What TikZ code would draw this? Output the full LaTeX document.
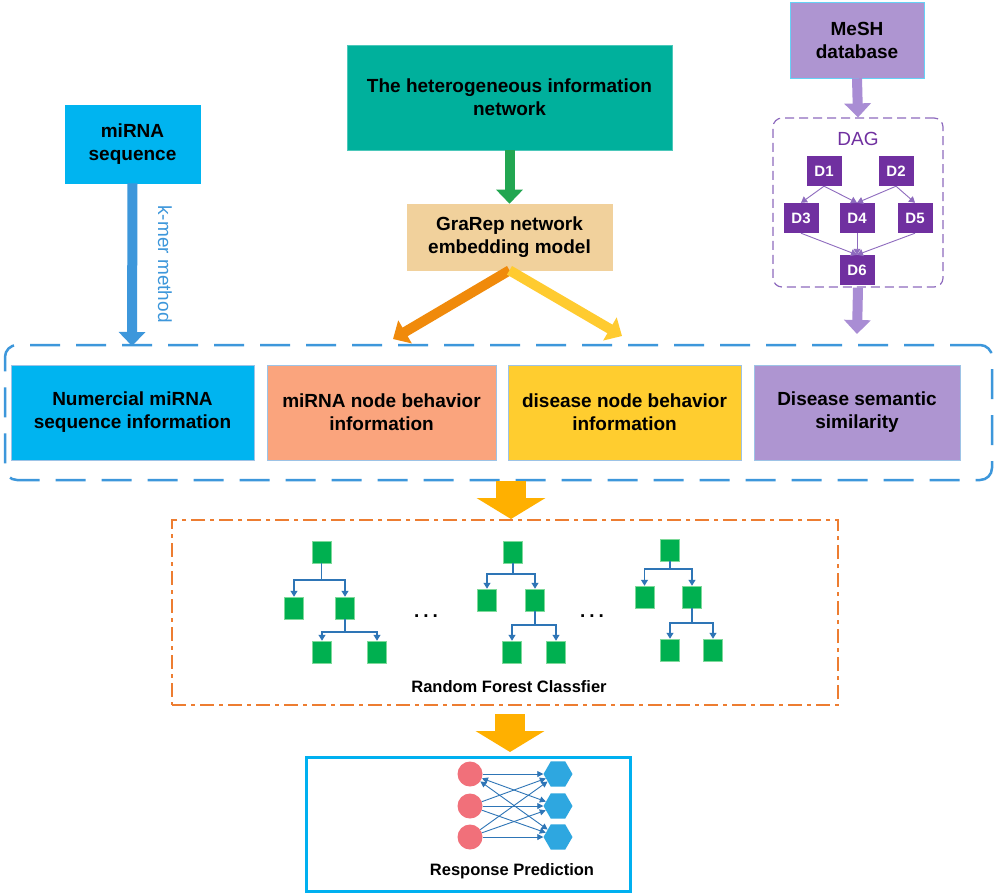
\documentclass[tikz,border=0pt]{standalone}
\usepackage{fontspec}
\setmainfont{Liberation Sans}
\usetikzlibrary{arrows.meta,shapes.geometric}
\definecolor{cSeq}{HTML}{00B4F0}
\definecolor{cTeal}{HTML}{00B09C}
\definecolor{cWheat}{HTML}{F1D19C}
\definecolor{cSalmon}{HTML}{FAA47D}
\definecolor{cYel}{HTML}{FFCD2F}
\definecolor{cLav}{HTML}{AE95D1}
\definecolor{cDag}{HTML}{7030A0}
\definecolor{cDagLine}{HTML}{8E6BBE}
\definecolor{cBlueA}{HTML}{3D97DB}
\definecolor{cGreenA}{HTML}{22A651}
\definecolor{cOrangeA}{HTML}{F08A0B}
\definecolor{cYellowA}{HTML}{FFCB30}
\definecolor{cPurpA}{HTML}{A98DD4}
\definecolor{cBig}{HTML}{FFB000}
\definecolor{cForest}{HTML}{ED7D31}
\definecolor{cLeaf}{HTML}{00B050}
\definecolor{cLeafB}{HTML}{7ED99A}
\definecolor{cTree}{HTML}{2E75B6}
\definecolor{cRed}{HTML}{F1707A}
\definecolor{cHex}{HTML}{2EA7E0}
\definecolor{cResp}{HTML}{00B0F0}
\definecolor{cEdge}{HTML}{9DC3E6}
\tikzset{
  box/.style={inner sep=0pt, align=center, draw=cEdge, line width=0.6pt,
    font=\bfseries\fontsize{19}{23}\selectfont},
  dnode/.style={inner sep=0pt, fill=cDag, text=white, minimum width=35pt, minimum height=30pt,
    font=\bfseries\fontsize{15}{18}\selectfont},
  darr/.style={draw=cDagLine, line width=0.9pt, -{Triangle[width=7pt,length=6pt]}},
  blockarr/.style={draw=#1, line width=10pt, -{Triangle[width=26pt,length=14pt]}},
  fatarr/.style={draw=cBig, line width=30pt, -{Triangle[width=68pt,length=21pt]}},
  leaf/.style={inner sep=0pt, fill=cLeaf, draw=cLeafB, line width=0.5pt, minimum width=19pt, minimum height=22pt},
  tline/.style={draw=cTree, line width=1.2pt},
  tarr/.style={draw=cTree, line width=1.2pt, -{Triangle[width=7pt,length=6pt]}},
  circ/.style={circle, fill=cRed, inner sep=0pt, minimum size=25pt},
  hexa/.style={regular polygon, regular polygon sides=6, fill=cHex, inner sep=0pt, minimum size=29pt},
  narr/.style={draw=cTree, line width=0.9pt, -{Triangle[width=6pt,length=6pt]}},
  nbarr/.style={draw=cTree, line width=0.9pt, {Triangle[width=6pt,length=6pt]}-{Triangle[width=6pt,length=6pt]}},
}
\begin{document}
\begin{tikzpicture}[x=1pt,y=-1pt]
\useasboundingbox[fill=white] (0,0) rectangle (1000,895);

% ---------- top row ----------
\node[box, fill=cLav, draw=cSeq!60, minimum width=134pt, minimum height=76pt] (mesh) at (857,40) {MeSH\\database};
\node[draw=cDagLine, dashed, dash pattern=on 9pt off 5pt, line width=1.2pt, rounded corners=9pt,
  minimum width=170pt, minimum height=169pt, inner sep=0pt] (dag) at (858,202.5) {};
\node[text=cDag, font=\fontsize{19}{22}\selectfont] (dagt) at (858,139) {DAG};
\node[dnode] (d1) at (824,171) {D1};
\node[dnode] (d2) at (896,171) {D2};
\node[dnode] (d3) at (801,218) {D3};
\node[dnode] (d4) at (857,218) {D4};
\node[dnode] (d5) at (915,218) {D5};
\node[dnode] (d6) at (857,270) {D6};
\draw[darr] (d1.south) -- (d3.north);
\draw[darr] (d1.south) -- (d4.north);
\draw[darr] (d2.south) -- (d4.north);
\draw[darr] (d2.south) -- (d5.north);
\draw[darr] (d3.south) -- (d6.north);
\draw[darr] (d4.south) -- (d6.north);
\draw[darr] (d5.south) -- (d6.north);

\node[box, fill=cSeq, draw=cSeq, minimum width=135pt, minimum height=78pt] (seq) at (132.5,144) {miRNA\\sequence};
\node[box, fill=cTeal, draw=cTeal!70, minimum width=325pt, minimum height=105pt] (het) at (509.5,97.5) {The heterogeneous information\\network};
\node[box, fill=cWheat, draw=cWheat, minimum width=205pt, minimum height=66pt] (gra) at (509.5,237) {GraRep network\\embedding model};

% ---------- feature row ----------
\node[draw=cBlueA, line width=2.5pt, dash pattern=on 30pt off 16pt, rounded corners=12pt,
  minimum width=987pt, minimum height=135pt, inner sep=0pt] (feat) at (498.5,412.5) {};
\node[box, fill=cSeq, minimum width=243pt, minimum height=95pt] (f1) at (132.5,412.5) {Numercial miRNA\\sequence information};
\node[box, fill=cSalmon, minimum width=229pt, minimum height=95pt] (f2) at (381.5,412.5) {miRNA node behavior\\information};
\node[box, fill=cYel, minimum width=233pt, minimum height=95pt] (f3) at (624.5,412.5) {disease node behavior\\information};
\node[box, fill=cLav, minimum width=206pt, minimum height=95pt] (f4) at (857,412.5) {Disease semantic\\similarity};

\coordinate (kend) at (132,346);
\coordinate (oend) at (393,339);
\coordinate (yend) at (622,336);
\coordinate (pend) at (857,334);
\draw[blockarr=cBlueA] (seq.south) -- (kend);
\node[text=cBlueA, rotate=-90, font=\fontsize{19}{22}\selectfont] (kmer) at (165,264) {k-mer method};
\draw[blockarr=cGreenA] (het.south) -- (gra.north);
\draw[blockarr=cOrangeA] (gra.south) -- (oend);
\draw[blockarr=cYellowA] (gra.south) -- (yend);
\draw[blockarr=cPurpA] (mesh.south) -- (dag.north);
\draw[blockarr=cPurpA] (dag.south) -- (pend);

% ---------- random forest ----------
\node[draw=cForest, line width=2.5pt, dash pattern=on 14pt off 5pt on 4pt off 5pt,
  minimum width=666pt, minimum height=185pt, inner sep=0pt] (rf) at (505,612.5) {};
\coordinate (a1s) at (511,481);
\coordinate (a1e) at (511,519);
\draw[fatarr] (a1s) -- (a1e);

% tree 1
\node[leaf] (t1r) at (321.5,552) {};
\node[leaf] (t1a) at (294,608) {};
\node[leaf] (t1b) at (345,608) {};
\node[leaf] (t1c) at (322,652) {};
\node[leaf] (t1d) at (377,652) {};
\coordinate (t1j) at (321.5,580);
\coordinate (t1k) at (345,632);
\draw[tline] (t1r.south) -- (t1j);
\draw[tarr] (t1j) -| (t1a.north);
\draw[tarr] (t1j) -| (t1b.north);
\draw[tline] (t1b.south) -- (t1k);
\draw[tarr] (t1k) -| (t1c.north);
\draw[tarr] (t1k) -| (t1d.north);
% tree 2
\node[leaf] (t2r) at (513,552) {};
\node[leaf] (t2a) at (487,600) {};
\node[leaf] (t2b) at (535,600) {};
\node[leaf] (t2c) at (512,652) {};
\node[leaf] (t2d) at (556,652) {};
\coordinate (t2j) at (513,574);
\coordinate (t2k) at (535,625);
\draw[tline] (t2r.south) -- (t2j);
\draw[tarr] (t2j) -| (t2a.north);
\draw[tarr] (t2j) -| (t2b.north);
\draw[tline] (t2b.south) -- (t2k);
\draw[tarr] (t2k) -| (t2c.north);
\draw[tarr] (t2k) -| (t2d.north);
% tree 3
\node[leaf] (t3r) at (670,550) {};
\node[leaf] (t3a) at (644.5,597) {};
\node[leaf] (t3b) at (692,597) {};
\node[leaf] (t3c) at (670,650) {};
\node[leaf] (t3d) at (713,650) {};
\coordinate (t3j) at (670,569);
\coordinate (t3k) at (692,623);
\draw[tline] (t3r.south) -- (t3j);
\draw[tarr] (t3j) -| (t3a.north);
\draw[tarr] (t3j) -| (t3b.north);
\draw[tline] (t3b.south) -- (t3k);
\draw[tarr] (t3k) -| (t3c.north);
\draw[tarr] (t3k) -| (t3d.north);

\node[font=\bfseries\fontsize{19}{22}\selectfont] (dots1) at (426,616) {.\hspace{4pt}.\hspace{4pt}.};
\node[font=\bfseries\fontsize{19}{22}\selectfont] (dots2) at (592,616) {.\hspace{4pt}.\hspace{4pt}.};
\node[font=\bfseries\fontsize{16.5}{20}\selectfont] (rft) at (509,687) {Random Forest Classfier};

% ---------- response ----------
\coordinate (a2s) at (510,714);
\coordinate (a2e) at (510,752);
\draw[fatarr] (a2s) -- (a2e);
\node[draw=cResp, line width=3pt, minimum width=324pt, minimum height=134pt, inner sep=0pt] (resp) at (468,824) {};
\node[circ] (c1) at (470,774) {};
\node[circ] (c2) at (470,806) {};
\node[circ] (c3) at (470,837) {};
\node[hexa] (h1) at (558,774) {};
\node[hexa] (h2) at (558,806) {};
\node[hexa] (h3) at (558,837) {};
\draw[narr] (c1) -- (h1);
\draw[nbarr] (c1) -- (h2);
\draw[nbarr] (c1) -- (h3);
\draw[narr] (c2) -- (h1);
\draw[narr] (c2) -- (h2);
\draw[narr] (c2) -- (h3);
\draw[narr] (c3) -- (h1);
\draw[narr] (c3) -- (h2);
\draw[narr] (c3) -- (h3);
\node[font=\bfseries\fontsize{16.5}{20}\selectfont] (rpt) at (512,871) {Response Prediction};
\end{tikzpicture}
\end{document}
